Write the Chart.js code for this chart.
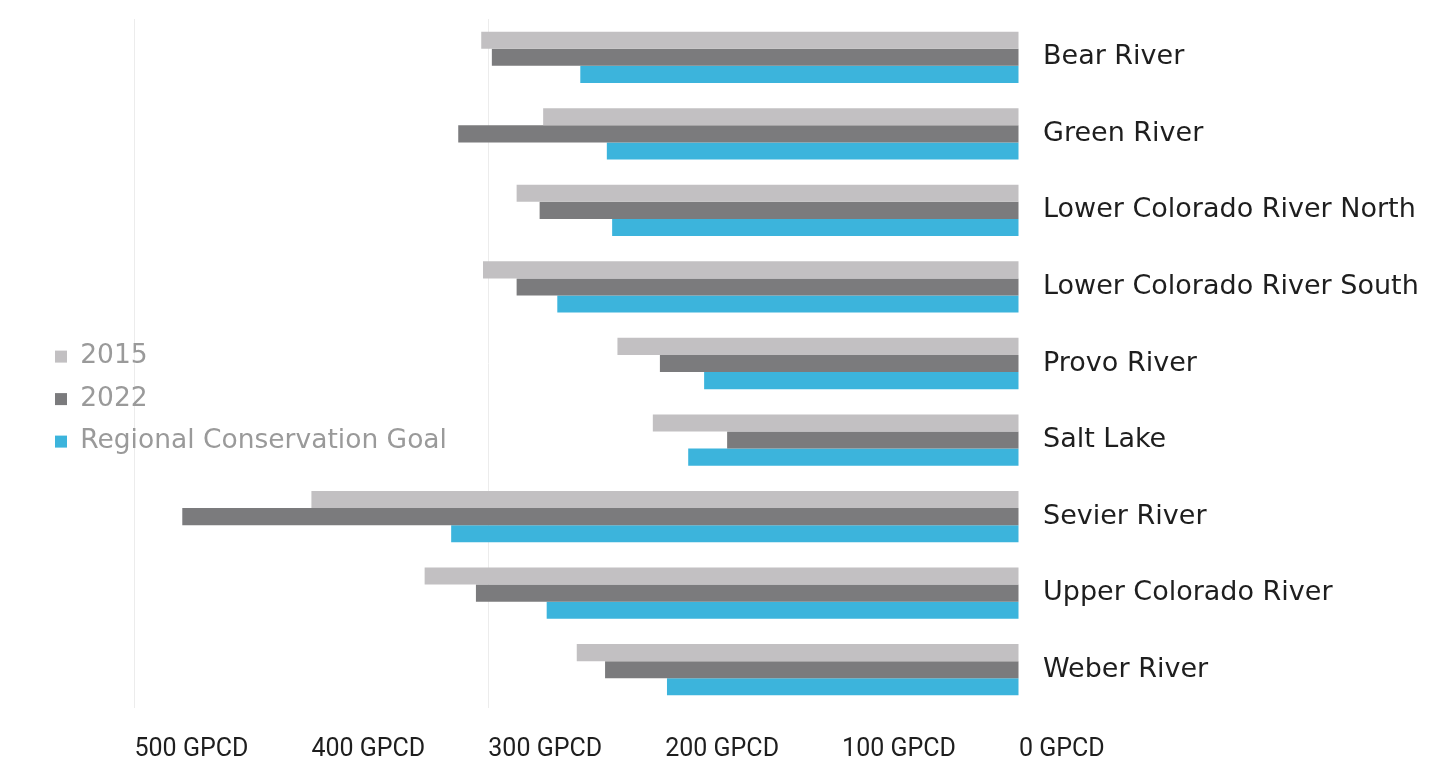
<!DOCTYPE html>
<html>
<head>
<meta charset="utf-8">
<script src="https://cdn.jsdelivr.net/npm/chart.js@4/dist/chart.umd.min.js"></script>
<style>
  html, body { margin: 0; padding: 0; background: #ffffff; }
  #wrap { width: 1456px; height: 761px; position: relative; }
</style>
</head>
<body>
<div id="wrap"><canvas id="c"></canvas></div>
<script>
const categories = [
  "Bear River",
  "Green River",
  "Lower Colorado River North",
  "Lower Colorado River South",
  "Provo River",
  "Salt Lake",
  "Sevier River",
  "Upper Colorado River",
  "Weber River"
];
const seriesNames = ["2015", "2022", "Regional Conservation Goal"];
const values2015 = [304, 269, 284, 303, 227, 207, 400, 336, 250];
const values2022 = [298, 317, 271, 284, 203, 165, 473, 307, 234];
const valuesGoal = [248, 233, 230, 261, 178, 187, 321, 267, 199];
const tickValues = [0, 100, 200, 300, 400, 500];
const tickUnit = "GPCD";
const axisMax = 554;

const colors = ["#c2c0c2", "#7b7b7d", "#3cb4dc"];

new Chart(document.getElementById("c"), {
  type: "bar",
  data: {
    labels: categories,
    datasets: [
      { label: seriesNames[0], data: values2015, backgroundColor: colors[0] },
      { label: seriesNames[1], data: values2022, backgroundColor: colors[1] },
      { label: seriesNames[2], data: valuesGoal, backgroundColor: colors[2] }
    ]
  },
  options: {
    indexAxis: "y",
    responsive: true,
    maintainAspectRatio: false,
    animation: false,
    categoryPercentage: 0.67,
    barPercentage: 1.0,
    layout: { padding: { left: 39, top: 19, right: 0, bottom: 0 } },
    scales: {
      x: {
        reverse: true,
        min: 0,
        max: axisMax,
        afterBuildTicks: (scale) => { scale.ticks = tickValues.map(v => ({ value: v })); },
        afterFit: (scale) => { scale.height = 53; },
        border: { display: false },
        grid: {
          drawTicks: false,
          color: (ctx) => (ctx.tick && (ctx.tick.value === 300 || ctx.tick.value === 500)) ? "#ececec" : "rgba(0,0,0,0)"
        },
        ticks: {
          align: "start",
          padding: 27,
          color: "#1e1e1e",
          font: { family: "Roboto", size: 25 },
          callback: (v) => v + " " + tickUnit
        }
      },
      y: {
        position: "right",
        border: { display: false },
        grid: { display: false, drawTicks: true, tickLength: 24 },
        afterFit: (scale) => { scale.width = 437; },
        ticks: {
          padding: 0,
          color: "#1e1e1e",
          font: { family: "DejaVu Sans", size: 27 }
        }
      }
    },
    plugins: {
      tooltip: { enabled: false },
      legend: {
        position: "chartArea",
        align: "center",
        title: { display: true, text: "", padding: { top: 108, bottom: 0 }, font: { size: 1 } },
        labels: {
          boxWidth: 12,
          boxHeight: 12,
          padding: 16,
          color: "#9a9a9a",
          font: { family: "DejaVu Sans", size: 26.5 }
        }
      }
    }
  }
});
</script>
</body>
</html>
